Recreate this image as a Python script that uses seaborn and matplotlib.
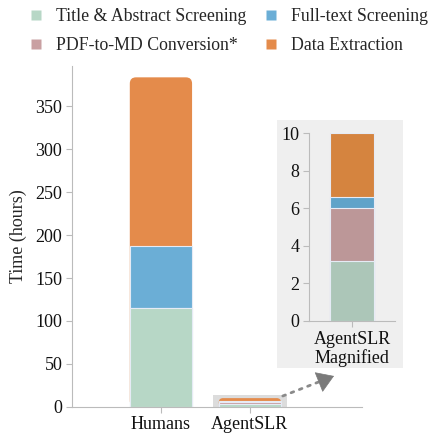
import numpy as np
import pandas as pd
import seaborn as sns
import matplotlib.pyplot as plt
from matplotlib.patches import FancyBboxPatch, Rectangle
from matplotlib.lines import Line2D

# ---- data (hours) ----
methods = ['Humans', 'AgentSLR']
stages = ['Title & Abstract Screening', 'PDF-to-MD Conversion*',
          'Full-text Screening', 'Data Extraction']
title_abstract = [115, 3.2]
pdf_to_md = [0, 2.8]
full_text = [72, 0.6]
extraction = [197, 3.4]

colors = ['#b7d7c6', '#c9a0a2', '#6baed6', '#e48b4b']
colors_inset = ['#acc6b8', '#bc9798', '#60a3c9', '#d5843f']

sns.set_style('ticks')
plt.rcParams['font.family'] = ['Liberation Serif', 'DejaVu Serif']
plt.rcParams['font.size'] = 13
plt.rcParams['axes.edgecolor'] = '#bbbbbb'
plt.rcParams['xtick.color'] = '#bbbbbb'
plt.rcParams['ytick.color'] = '#bbbbbb'
plt.rcParams['xtick.labelcolor'] = '#111111'
plt.rcParams['ytick.labelcolor'] = '#111111'

df = pd.DataFrame({'method': methods, stages[0]: title_abstract, stages[1]: pdf_to_md,
                   stages[2]: full_text, stages[3]: extraction})
cum = df[stages].cumsum(axis=1)
cum['method'] = methods

fig = plt.figure(figsize=(4.3, 4.36), dpi=100)
ax = fig.add_axes([0.1674, 0.0672, 0.6744, 0.781])
ax.set_xlim(-1, 2.26)
ax.set_ylim(0, 397)

# x/y display aspect, used to round the top corners
bb = ax.get_position()
aspect = (397 / (bb.height * 436)) / (3.26 / (bb.width * 430))
rad = 0.07

# grey marker behind the AgentSLR bar
tot_agent = cum[stages[3]].iloc[1]
ax.add_patch(Rectangle((1 - 0.416, 0), 0.832, tot_agent * 1.36,
                       facecolor='#dcdcdc', edgecolor='none', zorder=0.5))

# draw cumulative bars, tallest first, so each lower stage sits on top
for i in range(3, -1, -1):
    n0 = len(ax.patches)
    sns.barplot(data=cum, x='method', y=stages[i], color=colors[i], saturation=1,
                width=0.7, edgecolor='#e6ebf5', linewidth=0.8, ax=ax, zorder=2)
    if i == 3:
        for p in ax.patches[n0:]:
            x, y, w, h = p.get_x(), p.get_y(), p.get_width(), p.get_height()
            p.remove()
            r = min(rad, h / 2 / aspect)
            ax.add_patch(FancyBboxPatch((x, y), w, h,
                                        boxstyle=f'round,pad=0,rounding_size={r}',
                                        mutation_aspect=aspect, facecolor=colors[i],
                                        edgecolor='none', zorder=1.5))

ax.set_xlim(-1, 2.26)
ax.set_ylim(0, 397)
ax.set_xlabel('')
ax.set_ylabel('Time (hours)', labelpad=6)
ax.set_yticks(range(0, 351, 50))
ax.tick_params(length=4, width=0.8, pad=3)
sns.despine(ax=ax)

# inset background
fig.add_artist(Rectangle((277 / 430, 68 / 436), 126 / 430, 248 / 436,
                         transform=fig.transFigure, facecolor='#efefef',
                         edgecolor='none', zorder=0.5))

axin = fig.add_axes([0.7186, 0.2638, 0.2, 0.431], zorder=2)
axin.set_facecolor('none')
agent = cum[cum['method'] == 'AgentSLR']
for i in range(3, -1, -1):
    sns.barplot(data=agent, x='method', y=stages[i], color=colors_inset[i], saturation=1,
                width=0.52, edgecolor='#e6ebf5', linewidth=0.8, ax=axin)
axin.set_xlim(-0.5, 0.5)
axin.set_ylim(0, 10)
axin.set_xticks([0])
axin.set_xticklabels(['AgentSLR\nMagnified'], linespacing=1.1)
axin.set_xlabel('')
axin.set_ylabel('')
axin.tick_params(length=4, width=0.8, pad=3)
sns.despine(ax=axin)

# dotted arrow from the bar to the inset
ax.annotate('', xy=(334 / 430, 1 - 376 / 436), xycoords='figure fraction',
            xytext=(1.37, 12.5), textcoords='data',
            arrowprops=dict(arrowstyle='-', linestyle=(0, (1, 2.2)), color='#8a8a8a',
                            lw=2, shrinkA=0, shrinkB=4),
            annotation_clip=False)
ax.annotate('', xy=(334 / 430, 1 - 376 / 436), xycoords='figure fraction',
            xytext=(324 / 430, 1 - 380 / 436), textcoords='figure fraction',
            arrowprops=dict(arrowstyle='-|>,head_length=0.7,head_width=0.45',
                            color='#7a7a7a', lw=0.5, mutation_scale=16,
                            shrinkA=0, shrinkB=0),
            annotation_clip=False)

handles = [Line2D([], [], marker='s', linestyle='none', markersize=7,
                  markerfacecolor=c, markeredgecolor='none') for c in colors]
fig.legend(handles, stages, loc='upper left', bbox_to_anchor=(31 / 430, 1 - 8 / 436), ncol=2,
           frameon=False, handlelength=0.6, handletextpad=0.8, columnspacing=1.1,
           labelspacing=0.7, borderpad=0, borderaxespad=0, fontsize=12.8)

fig.savefig('out.png', dpi=100)
